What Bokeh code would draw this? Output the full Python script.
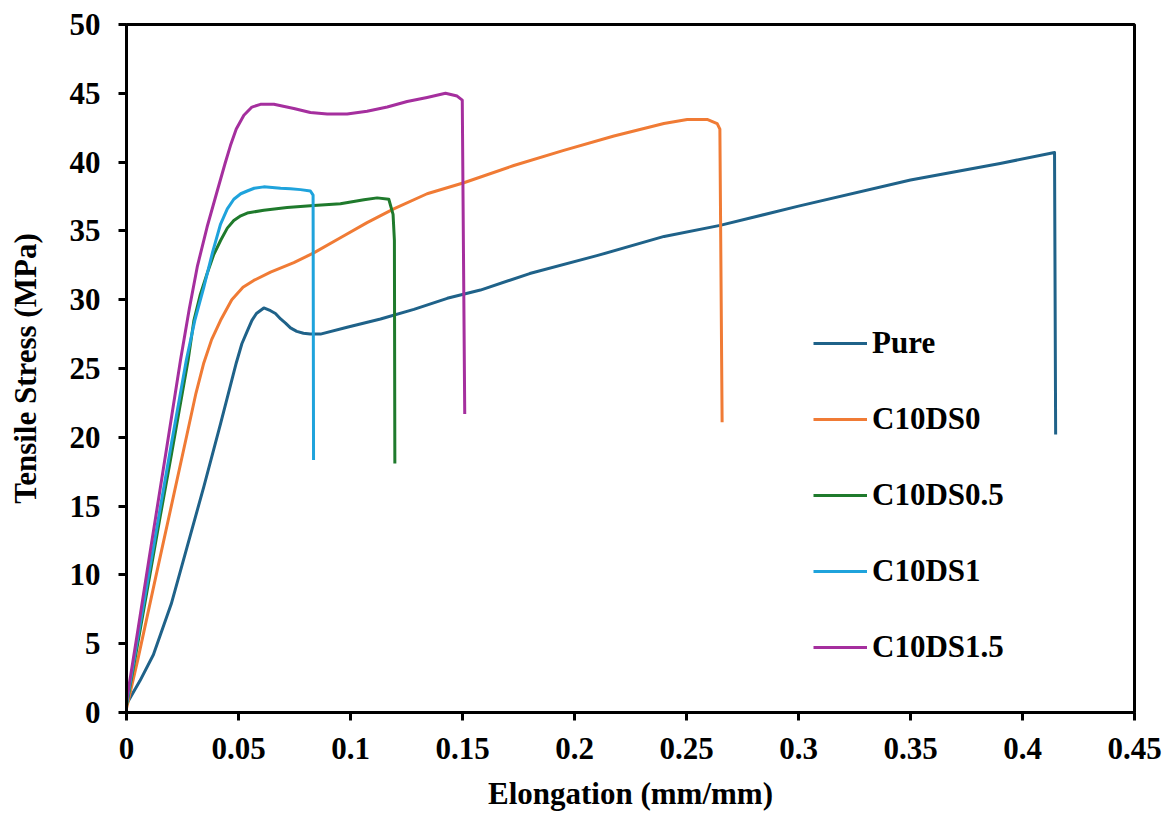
from bokeh.plotting import figure
from bokeh.models import Range1d, FixedTicker, Legend, LegendItem
from bokeh.embed import file_html
from bokeh.resources import INLINE

# ---- data ----
series_names = ["Pure", "C10DS0", "C10DS0.5", "C10DS1", "C10DS1.5"]
series_colors = ["#1f6289", "#f07b35", "#1f7a2c", "#1fa3dc", "#a52f9e"]

pure_x = [0, 0.006, 0.012, 0.020, 0.027, 0.0345, 0.042, 0.049, 0.0515, 0.054, 0.056, 0.058,
          0.0613, 0.0643, 0.0665, 0.0688, 0.071, 0.0732, 0.076, 0.079, 0.082, 0.0866, 0.0985,
          0.1134, 0.1283, 0.1432, 0.158, 0.180, 0.210, 0.240, 0.265, 0.300, 0.350, 0.390,
          0.4143, 0.4148]
pure_y = [0.6, 2.3, 4.2, 7.9, 12.0, 16.4, 21.0, 25.4, 26.8, 27.75, 28.5, 29.0,
          29.4, 29.2, 29.0, 28.6, 28.3, 27.95, 27.7, 27.56, 27.5, 27.5, 28.0,
          28.6, 29.3, 30.1, 30.7, 31.9, 33.2, 34.6, 35.4, 36.8, 38.7, 39.9,
          40.7, 20.2]

c0_x = [0, 0.005, 0.013, 0.020, 0.027, 0.031, 0.0345, 0.038, 0.042, 0.047, 0.052, 0.0568,
        0.0643, 0.0747, 0.0836, 0.0955, 0.1074, 0.1193, 0.1342, 0.1506, 0.1729, 0.1952,
        0.2176, 0.2399, 0.2503, 0.2592, 0.2637, 0.2649, 0.2659]
c0_y = [0.3, 3.8, 9.8, 15.0, 20.2, 23.2, 25.4, 27.1, 28.5, 30.0, 30.9, 31.4,
        32.0, 32.7, 33.4, 34.5, 35.6, 36.6, 37.7, 38.5, 39.75, 40.85,
        41.9, 42.8, 43.1, 43.1, 42.8, 42.4, 21.1]

c05_x = [0, 0.005, 0.010, 0.015, 0.020, 0.0275, 0.0301, 0.033, 0.036, 0.039, 0.042, 0.045,
         0.0479, 0.051, 0.0539, 0.0613, 0.0717, 0.0836, 0.0955, 0.106, 0.1119, 0.1171,
         0.119, 0.1196, 0.1198]
c05_y = [0.5, 5.0, 9.6, 14.2, 18.7, 25.6, 28.5, 30.4, 31.9, 33.3, 34.3, 35.2,
         35.75, 36.1, 36.3, 36.5, 36.7, 36.85, 36.97, 37.26, 37.4, 37.3,
         36.2, 34.3, 18.1]

c1_x = [0, 0.005, 0.010, 0.015, 0.020, 0.0267, 0.0305, 0.0345, 0.0385, 0.042, 0.045, 0.0479,
        0.051, 0.0539, 0.057, 0.0613, 0.0688, 0.0732, 0.0777, 0.0821, 0.0833, 0.0835]
c1_y = [0.6, 5.4, 10.1, 14.8, 19.5, 25.6, 28.5, 30.9, 33.5, 35.5, 36.6, 37.3,
        37.7, 37.9, 38.1, 38.2, 38.1, 38.06, 38.0, 37.9, 37.6, 18.35]

c15_x = [0, 0.005, 0.010, 0.018, 0.0241, 0.028, 0.0316, 0.036, 0.0405, 0.044, 0.0464, 0.049,
         0.0524, 0.056, 0.0598, 0.0658, 0.0747, 0.0821, 0.0896, 0.0985, 0.1074, 0.1164,
         0.1253, 0.1342, 0.1424, 0.1476, 0.1499, 0.1510]
c15_y = [0.8, 5.9, 11.1, 19.3, 25.6, 29.3, 32.4, 35.3, 37.9, 39.9, 41.2, 42.4,
         43.4, 44.0, 44.2, 44.2, 43.9, 43.6, 43.5, 43.5, 43.7, 44.0,
         44.4, 44.7, 45.0, 44.8, 44.5, 21.7]

x_ticks = [0, 0.05, 0.1, 0.15, 0.2, 0.25, 0.3, 0.35, 0.4, 0.45]
x_tick_labels = ["0", "0.05", "0.1", "0.15", "0.2", "0.25", "0.3", "0.35", "0.4", "0.45"]
y_ticks = [0, 5, 10, 15, 20, 25, 30, 35, 40, 45, 50]
y_tick_labels = ["0", "5", "10", "15", "20", "25", "30", "35", "40", "45", "50"]

x_title = "Elongation (mm/mm)"
y_title = "Tensile Stress (MPa)"

FONT = "Liberation Serif"
FS = "31px"

p = figure(width=1169, height=813, output_backend="svg", toolbar_location=None,
           x_range=Range1d(0, 0.45), y_range=Range1d(0, 50),
           min_border_left=126, min_border_right=35, min_border_top=24, min_border_bottom=101)
p.xgrid.visible = False
p.ygrid.visible = False
p.background_fill_color = "white"
p.border_fill_color = "white"
p.outline_line_color = "black"
p.outline_line_width = 3

for ax, ticks, labels in ((p.xaxis[0], x_ticks, x_tick_labels), (p.yaxis[0], y_ticks, y_tick_labels)):
    ax.ticker = FixedTicker(ticks=ticks)
    ax.major_label_overrides = {t: l for t, l in zip(ticks, labels)}
    ax.axis_line_width = 3
    ax.axis_line_color = "black"
    ax.major_tick_line_width = 3
    ax.major_tick_in = 0
    ax.major_tick_out = 8
    ax.minor_tick_line_color = None
    ax.major_label_text_font = FONT
    ax.major_label_text_font_style = "bold"
    ax.major_label_text_font_size = FS
    ax.major_label_text_color = "black"
    ax.axis_label_text_font = FONT
    ax.axis_label_text_font_style = "bold"
    ax.axis_label_text_font_size = FS
    ax.axis_label_text_color = "black"

p.xaxis[0].axis_label = x_title
p.yaxis[0].axis_label = y_title
p.xaxis[0].major_label_standoff = 17
p.yaxis[0].major_label_standoff = 18
p.xaxis[0].axis_label_standoff = 14
p.yaxis[0].axis_label_standoff = 24

all_x = [pure_x, c0_x, c05_x, c1_x, c15_x]
all_y = [pure_y, c0_y, c05_y, c1_y, c15_y]
items = []
for name, col, xs, ys in zip(series_names, series_colors, all_x, all_y):
    r = p.line(xs, ys, line_color=col, line_width=3, line_join="round")
    items.append(LegendItem(label=name, renderers=[r]))

legend = Legend(items=items, location=(687, 47), orientation="vertical",
                glyph_width=54, glyph_height=30, label_height=30, spacing=40,
                label_standoff=5, padding=0, margin=0,
                border_line_color=None, background_fill_alpha=0,
                label_text_font=FONT, label_text_font_style="bold",
                label_text_font_size=FS, label_text_color="black")
p.add_layout(legend)

open("out.html", "w").write(file_html(p, INLINE))
